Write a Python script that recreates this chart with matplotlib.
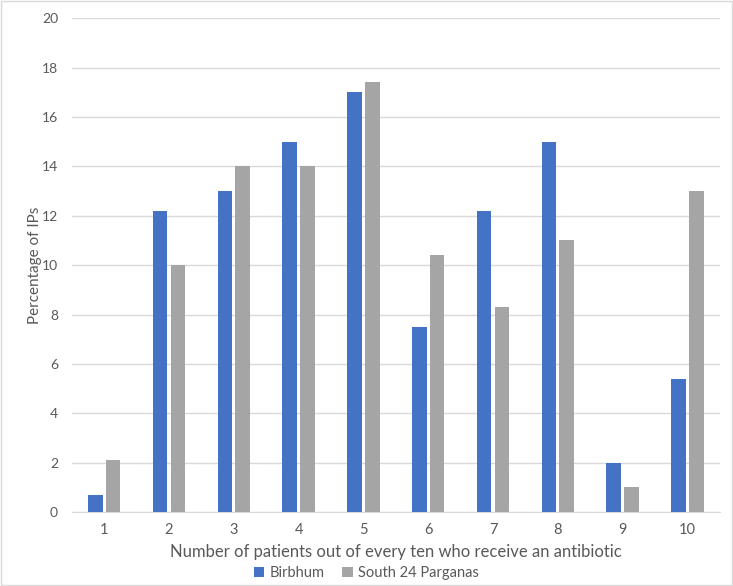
import matplotlib.pyplot as plt
import numpy as np

categories = ['1', '2', '3', '4', '5', '6', '7', '8', '9', '10']
birbhum = [0.7, 12.2, 13, 15, 17, 7.5, 12.2, 15, 2, 5.4]
south24 = [2.1, 10, 14, 14, 17.4, 10.4, 8.3, 11, 1, 13]

plt.rcParams['font.family'] = ['Lato', 'DejaVu Sans']

fig = plt.figure(figsize=(7.33, 5.86), dpi=100)
ax = fig.add_axes([0.098, 0.126, 0.884, 0.843])

x = np.arange(len(categories))
w = 0.225
gap = 0.025
ax.bar(x - w / 2 - gap, birbhum, width=w, color='#4472C4', label='Birbhum', zorder=3)
ax.bar(x + w / 2 + gap, south24, width=w, color='#A5A5A5', label='South 24 Parganas', zorder=3)

ax.set_xlim(-0.5, len(categories) - 0.5)
ax.set_ylim(0, 20)
ax.set_yticks(range(0, 21, 2))
ax.set_xticks(x)
ax.set_xticklabels(categories)
ax.grid(axis='y', color='#D9D9D9', linewidth=1, zorder=0)
for s in ['top', 'right', 'left']:
    ax.spines[s].set_visible(False)
ax.spines['bottom'].set_color('#D9D9D9')
ax.tick_params(length=0, colors='#595959', labelsize=10.5, pad=8)
ax.tick_params(axis='y', labelsize=10, pad=10)

ax.set_xlabel('Number of patients out of every ten who receive an antibiotic',
              fontsize=12, color='#595959', labelpad=5)
ax.set_ylabel('Percentage of IPs', fontsize=11, color='#595959')
ax.yaxis.set_label_coords(-0.046, 0.5)

leg = fig.legend(*ax.get_legend_handles_labels(), loc='center', bbox_to_anchor=(0.5, 0.022),
                 ncol=2, frameon=False, fontsize=10.5, handlelength=0.7, handleheight=0.7,
                 columnspacing=1.2, handletextpad=0.4, borderpad=0)
for t in leg.get_texts():
    t.set_color('#595959')

fig.patches.append(plt.Rectangle((0.002, 0.002), 0.996, 0.996, transform=fig.transFigure,
                                 fill=False, edgecolor='#D9D9D9', linewidth=1))

fig.savefig('out.png', dpi=100)
